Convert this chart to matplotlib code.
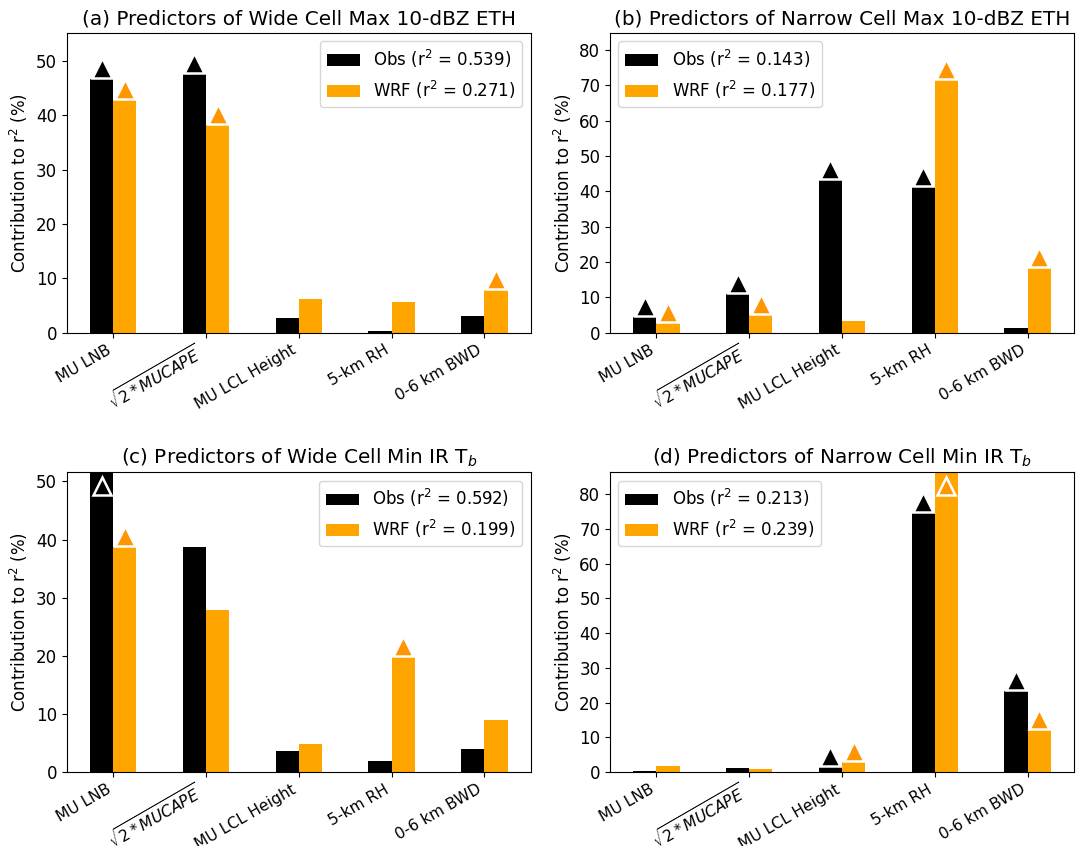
#! /usr/bin/env python3

#Bar charts of relative predictor contributions to r^2 for wide and narrow cells
import matplotlib
matplotlib.use('Agg')
import matplotlib.pyplot as plt
from matplotlib.transforms import offset_copy
from matplotlib.ticker import MultipleLocator
import numpy as np

plt.rcParams['font.size'] = 12

predictors = ['MU LNB', r'$\sqrt{2*MUCAPE}$', 'MU LCL Height', '5-km RH', '0-6 km BWD']

titles = ['(a) Predictors of Wide Cell Max 10-dBZ ETH',
          '(b) Predictors of Narrow Cell Max 10-dBZ ETH',
          '(c) Predictors of Wide Cell Min IR T$_b$',
          '(d) Predictors of Narrow Cell Min IR T$_b$']

#r^2 of each full regression
obs_r2 = [0.539, 0.143, 0.592, 0.213]
wrf_r2 = [0.271, 0.177, 0.199, 0.239]

#contribution of each predictor (%)
obs_a = [46.7, 47.6, 2.8, 0.3, 3.0]
wrf_a = [42.7, 38.2, 6.3, 5.6, 7.8]
obs_b = [4.5, 11.0, 43.3, 41.3, 1.4]
wrf_b = [2.8, 5.0, 3.3, 71.6, 18.3]
obs_c = [51.6, 38.7, 3.6, 1.9, 4.0]
wrf_c = [38.7, 27.9, 4.8, 19.8, 9.0]
obs_d = [0.4, 1.2, 1.5, 74.5, 23.3]
wrf_d = [1.6, 0.8, 2.8, 86.4, 12.0]

#significant predictors (triangles)
obs_sig_a = [1, 1, 0, 0, 0]
wrf_sig_a = [1, 1, 0, 0, 1]
obs_sig_b = [1, 1, 1, 1, 0]
wrf_sig_b = [1, 1, 0, 1, 1]
obs_sig_c = [1, 0, 0, 0, 0]
wrf_sig_c = [1, 0, 0, 1, 0]
obs_sig_d = [0, 0, 1, 1, 1]
wrf_sig_d = [0, 0, 1, 1, 1]

obs_all = [obs_a, obs_b, obs_c, obs_d]
wrf_all = [wrf_a, wrf_b, wrf_c, wrf_d]
obs_sig = [obs_sig_a, obs_sig_b, obs_sig_c, obs_sig_d]
wrf_sig = [wrf_sig_a, wrf_sig_b, wrf_sig_c, wrf_sig_d]
ytops = [55.1, 84.8, 51.6, 86.4]
legend_loc = ['upper right', 'upper left', 'upper right', 'upper left']

obs_color = 'black'
wrf_color = 'orange'
wrf_tri = '#ff9500'
width = 0.25


def add_triangles(fig, ax, xpos, vals, sig, ytop, color):
    up = offset_copy(ax.transData, fig=fig, y=11, units='dots')
    down = offset_copy(ax.transData, fig=fig, y=-14, units='dots')
    for x, v, s in zip(xpos, vals, sig):
        if not s:
            continue
        if v >= ytop:
            #bar runs off the top, so put the marker inside it
            ax.plot(x, ytop, marker='^', ms=13.5, color=color, mec='white',
                    mew=1.8, transform=down, clip_on=False, zorder=4)
        else:
            ax.plot(x, v, marker='^', ms=15, color=color, mec='white',
                    mew=1.8, transform=up, clip_on=False, zorder=4)


fig, axes = plt.subplots(2, 2, figsize=(10.78, 8.46), dpi=100)
plt.subplots_adjust(left=0.062, right=0.9963, top=0.961, bottom=0.0875,
                    wspace=0.171, hspace=0.465)

x = np.arange(len(predictors))
for i, ax in enumerate(axes.flat):
    ax.bar(x - width / 2, obs_all[i], width, color=obs_color,
           label='Obs (r$^2$ = {:.3f})'.format(obs_r2[i]))
    ax.bar(x + width / 2, wrf_all[i], width, color=wrf_color,
           label='WRF (r$^2$ = {:.3f})'.format(wrf_r2[i]))
    ax.set_xlim(-0.5, 4.5)
    ax.set_ylim(0, ytops[i])
    ax.yaxis.set_major_locator(MultipleLocator(10))
    add_triangles(fig, ax, x - width / 2, obs_all[i], obs_sig[i], ytops[i], obs_color)
    add_triangles(fig, ax, x + width / 2, wrf_all[i], wrf_sig[i], ytops[i], wrf_tri)
    ax.set_xticks(x)
    ax.set_xticklabels(predictors, rotation=30, ha='right', fontsize=11.2)
    ax.set_ylabel('Contribution to r$^2$ (%)')
    ax.set_title(titles[i], fontsize=14.4)
    ax.legend(loc=legend_loc[i])

plt.savefig('out.png', dpi=100)
